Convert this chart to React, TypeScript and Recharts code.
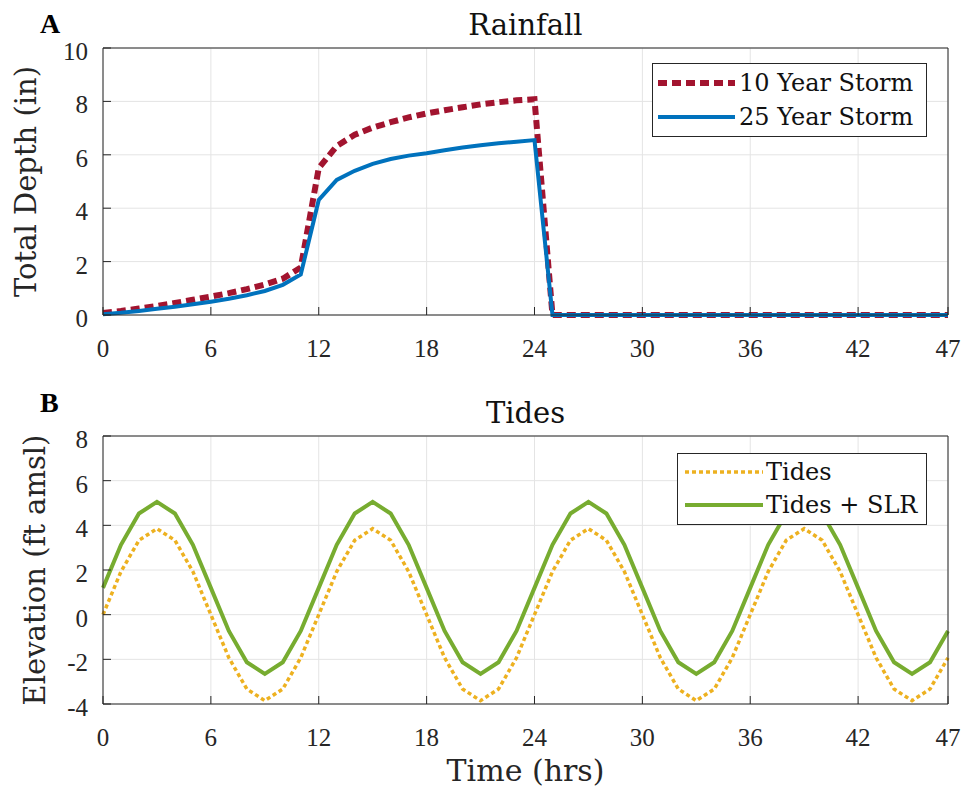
import React from 'react';
import { LineChart, Line, XAxis, YAxis, CartesianGrid, Legend } from 'recharts';

const hours = [
  0, 1, 2, 3, 4, 5, 6, 7, 8, 9, 10, 11, 12, 13, 14, 15, 16, 17, 18, 19, 20, 21, 22, 23,
  24, 25, 26, 27, 28, 29, 30, 31, 32, 33, 34, 35, 36, 37, 38, 39, 40, 41, 42, 43, 44, 45, 46, 47,
];
const xTicks = [0, 6, 12, 18, 24, 30, 36, 42, 47];
const rainTicks = [0, 2, 4, 6, 8, 10];
const tideTicks = [-4, -2, 0, 2, 4, 6, 8];

const rain10 = [
  0.08, 0.15, 0.24, 0.34, 0.45, 0.57, 0.69, 0.82, 0.97, 1.14, 1.36, 1.78,
  5.5, 6.33, 6.75, 7.02, 7.22, 7.4, 7.55, 7.67, 7.78, 7.89, 7.97, 8.04,
  8.08, 0, 0, 0, 0, 0, 0, 0, 0, 0, 0, 0,
  0, 0, 0, 0, 0, 0, 0, 0, 0, 0, 0, 0,
];
const rain25 = [
  0.03, 0.08, 0.15, 0.23, 0.31, 0.4, 0.5, 0.61, 0.74, 0.9, 1.13, 1.52,
  4.31, 5.06, 5.4, 5.66, 5.84, 5.97, 6.06, 6.17, 6.27, 6.36, 6.43, 6.49,
  6.55, 0, 0, 0, 0, 0, 0, 0, 0, 0, 0, 0,
  0, 0, 0, 0, 0, 0, 0, 0, 0, 0, 0, 0,
];
const tides = [
  0, 1.93, 3.33, 3.85, 3.33, 1.93, 0, -1.93, -3.33, -3.85, -3.33, -1.93,
  0, 1.93, 3.33, 3.85, 3.33, 1.93, 0, -1.93, -3.33, -3.85, -3.33, -1.93,
  0, 1.93, 3.33, 3.85, 3.33, 1.93, 0, -1.93, -3.33, -3.85, -3.33, -1.93,
  0, 1.93, 3.33, 3.85, 3.33, 1.93, 0, -1.93, -3.33, -3.85, -3.33, -1.93,
];
const tidesSlr = [
  1.2, 3.13, 4.53, 5.05, 4.53, 3.13, 1.2, -0.73, -2.13, -2.65, -2.13, -0.73,
  1.2, 3.13, 4.53, 5.05, 4.53, 3.13, 1.2, -0.73, -2.13, -2.65, -2.13, -0.73,
  1.2, 3.13, 4.53, 5.05, 4.53, 3.13, 1.2, -0.73, -2.13, -2.65, -2.13, -0.73,
  1.2, 3.13, 4.53, 5.05, 4.53, 3.13, 1.2, -0.73, -2.13, -2.65, -2.13, -0.73,
];

const rainData = hours.map((t, i) => ({ t, r10: rain10[i], r25: rain25[i] }));
const tideData = hours.map((t, i) => ({ t, tide: tides[i], slr: tidesSlr[i] }));

const AXIS = '#262626';
const GRID = '#e4e4e4';
const WORD_FONT = '"DejaVu Serif", serif';
const NUM_FONT = '"Liberation Serif", serif';

const seriesStyle: Record<string, { stroke: string; width: number; dash?: string }> = {
  r10: { stroke: '#A2142F', width: 6, dash: '9 5' },
  r25: { stroke: '#0072BD', width: 4 },
  tide: { stroke: '#EDB120', width: 3.5, dash: '4 3' },
  slr: { stroke: '#77AC30', width: 4 },
};

const LeftTick = (props: any) => (
  <text x={props.x} y={props.y + 12} textAnchor="end" fontFamily={NUM_FONT} fontSize={25} fill={AXIS}>
    {props.payload.value}
  </text>
);
const BottomTick = (props: any) => (
  <text x={props.x} y={props.y} textAnchor="middle" fontFamily={NUM_FONT} fontSize={25} fill={AXIS}>
    {props.payload.value}
  </text>
);

const titleLabel = (text: string) => (props: any) => {
  const vb = props.viewBox;
  return (
    <text x={vb.x + vb.width / 2} y={vb.y - 12} textAnchor="middle" fontFamily={WORD_FONT} fontSize={29} fill="#111">
      {text}
    </text>
  );
};
const yLabel = (text: string, dist: number) => (props: any) => {
  const vb = props.viewBox;
  const cx = vb.x + vb.width - dist;
  const cy = vb.y + vb.height / 2;
  return (
    <text x={cx} y={cy} transform={`rotate(-90 ${cx} ${cy})`} textAnchor="middle" fontFamily={WORD_FONT} fontSize={29} fill={AXIS}>
      {text}
    </text>
  );
};
const xLabel = (text: string) => (props: any) => {
  const vb = props.viewBox;
  return (
    <text x={vb.x + vb.width / 2} y={vb.y + 77} textAnchor="middle" fontFamily={WORD_FONT} fontSize={30} fill={AXIS}>
      {text}
    </text>
  );
};

type Box = { w: number; h: number; lx1: number; lx2: number; tx: number; rows: number[] };
const makeLegend = (box: Box) => (props: any) => {
  const payload = props.payload || [];
  return (
    <div style={{ width: box.w, height: box.h, border: `1px solid ${AXIS}`, background: '#fff', boxSizing: 'border-box' }}>
      <svg width={box.w - 2} height={box.h - 2} style={{ display: 'block' }}>
        {payload.map((p: any, i: number) => {
          const s = seriesStyle[p.dataKey as string];
          const cy = box.rows[i];
          return (
            <g key={String(p.dataKey)}>
              <line x1={box.lx1} x2={box.lx2} y1={cy} y2={cy} stroke={s.stroke} strokeWidth={s.width} strokeDasharray={s.dash} />
              <text x={box.tx} y={cy + 8} fontFamily={WORD_FONT} fontSize={24} fill="#111">
                {p.value}
              </text>
            </g>
          );
        })}
      </svg>
    </div>
  );
};

const legendA = makeLegend({ w: 275, h: 74, lx1: 5, lx2: 82, tx: 86, rows: [19, 53] });
const legendB = makeLegend({ w: 250, h: 72, lx1: 7, lx2: 85, tx: 88, rows: [18, 51] });

const frameAxes = (yDomain: number[], yTicks: number[]) => [
  <XAxis
    key="xb"
    xAxisId="b"
    dataKey="t"
    type="number"
    domain={[0, 47]}
    ticks={xTicks}
    height={1}
    tickSize={-8}
    tickMargin={50}
    tick={BottomTick}
    axisLine={{ stroke: AXIS }}
    tickLine={{ stroke: AXIS }}
    interval={0}
  />,
  <XAxis
    key="xt"
    xAxisId="t"
    orientation="top"
    dataKey="t"
    type="number"
    domain={[0, 47]}
    ticks={xTicks}
    height={1}
    tickSize={-8}
    tick={false}
    axisLine={{ stroke: AXIS }}
    tickLine={{ stroke: AXIS }}
    interval={0}
  />,
  <YAxis
    key="yl"
    yAxisId="l"
    type="number"
    domain={yDomain}
    ticks={yTicks}
    width={1}
    tickSize={-8}
    tickMargin={23}
    tick={LeftTick}
    axisLine={{ stroke: AXIS }}
    tickLine={{ stroke: AXIS }}
    interval={0}
  />,
  <YAxis
    key="yr"
    yAxisId="r"
    orientation="right"
    type="number"
    domain={yDomain}
    ticks={yTicks}
    width={1}
    tickSize={-8}
    tick={false}
    axisLine={{ stroke: AXIS }}
    tickLine={{ stroke: AXIS }}
    interval={0}
  />,
];

export default function App() {
  return (
    <div style={{ position: 'relative', left: -8, top: -8, width: 969, height: 793, background: '#fff' }}>
      <svg width={100} height={60} style={{ position: 'absolute', left: 0, top: 0 }}>
        <text x={40} y={33} fontFamily={NUM_FONT} fontWeight="bold" fontSize={28} fill="#000">A</text>
      </svg>
      <svg width={100} height={60} style={{ position: 'absolute', left: 0, top: 380 }}>
        <text x={40} y={32} fontFamily={NUM_FONT} fontWeight="bold" fontSize={28} fill="#000">B</text>
      </svg>

      <div style={{ position: 'absolute', left: 0, top: 0 }}>
        <LineChart width={969} height={380} data={rainData} margin={{ top: 47, right: 20, bottom: 64, left: 102 }}>
          <CartesianGrid xAxisId="b" yAxisId="l" stroke={GRID} verticalPoints={undefined} />
          <XAxis
            xAxisId="b"
            dataKey="t"
            type="number"
            domain={[0, 47]}
            ticks={xTicks}
            height={1}
            tickSize={-8}
            tickMargin={50}
            tick={BottomTick}
            axisLine={{ stroke: AXIS }}
            tickLine={{ stroke: AXIS }}
            interval={0}
          />
          <XAxis
            xAxisId="t"
            orientation="top"
            dataKey="t"
            type="number"
            domain={[0, 47]}
            ticks={xTicks}
            height={1}
            tickSize={-8}
            tick={false}
            axisLine={{ stroke: AXIS }}
            tickLine={{ stroke: AXIS }}
            interval={0}
            label={titleLabel('Rainfall')}
          />
          <YAxis
            yAxisId="l"
            type="number"
            domain={[0, 10]}
            ticks={rainTicks}
            width={1}
            tickSize={-8}
            tickMargin={23}
            tick={LeftTick}
            axisLine={{ stroke: AXIS }}
            tickLine={{ stroke: AXIS }}
            interval={0}
            label={yLabel('Total Depth (in)', 67)}
          />
          <YAxis
            yAxisId="r"
            orientation="right"
            type="number"
            domain={[0, 10]}
            ticks={rainTicks}
            width={1}
            tickSize={-8}
            tick={false}
            axisLine={{ stroke: AXIS }}
            tickLine={{ stroke: AXIS }}
            interval={0}
          />
          <Legend
            layout="vertical"
            align="center"
            verticalAlign="middle"
            content={legendA}
            wrapperStyle={{ left: 652, top: 63, width: 275, height: 74 }}
          />
          <Line xAxisId="b" yAxisId="l" type="linear" dataKey="r10" name="10 Year Storm" stroke={seriesStyle.r10.stroke} strokeWidth={seriesStyle.r10.width} strokeDasharray={seriesStyle.r10.dash} dot={false} activeDot={false} isAnimationActive={false} />
          <Line xAxisId="b" yAxisId="l" type="linear" dataKey="r25" name="25 Year Storm" stroke={seriesStyle.r25.stroke} strokeWidth={seriesStyle.r25.width} dot={false} activeDot={false} isAnimationActive={false} />
        </LineChart>
      </div>

      <div style={{ position: 'absolute', left: 0, top: 380 }}>
        <LineChart width={969} height={413} data={tideData} margin={{ top: 55, right: 20, bottom: 88, left: 102 }}>
          <CartesianGrid xAxisId="b" yAxisId="l" stroke={GRID} />
          <XAxis
            xAxisId="b"
            dataKey="t"
            type="number"
            domain={[0, 47]}
            ticks={xTicks}
            height={1}
            tickSize={-8}
            tickMargin={50}
            tick={BottomTick}
            axisLine={{ stroke: AXIS }}
            tickLine={{ stroke: AXIS }}
            interval={0}
            label={xLabel('Time (hrs)')}
          />
          <XAxis
            xAxisId="t"
            orientation="top"
            dataKey="t"
            type="number"
            domain={[0, 47]}
            ticks={xTicks}
            height={1}
            tickSize={-8}
            tick={false}
            axisLine={{ stroke: AXIS }}
            tickLine={{ stroke: AXIS }}
            interval={0}
            label={titleLabel('Tides')}
          />
          <YAxis
            yAxisId="l"
            type="number"
            domain={[-4, 8]}
            ticks={tideTicks}
            width={1}
            tickSize={-8}
            tickMargin={23}
            tick={LeftTick}
            axisLine={{ stroke: AXIS }}
            tickLine={{ stroke: AXIS }}
            interval={0}
            label={yLabel('Elevation (ft amsl)', 58)}
          />
          <YAxis
            yAxisId="r"
            orientation="right"
            type="number"
            domain={[-4, 8]}
            ticks={tideTicks}
            width={1}
            tickSize={-8}
            tick={false}
            axisLine={{ stroke: AXIS }}
            tickLine={{ stroke: AXIS }}
            interval={0}
          />
          <Legend
            layout="vertical"
            align="center"
            verticalAlign="middle"
            content={legendB}
            wrapperStyle={{ left: 677, top: 73, width: 250, height: 72 }}
          />
          <Line xAxisId="b" yAxisId="l" type="linear" dataKey="tide" name="Tides" stroke={seriesStyle.tide.stroke} strokeWidth={seriesStyle.tide.width} strokeDasharray={seriesStyle.tide.dash} dot={false} activeDot={false} isAnimationActive={false} />
          <Line xAxisId="b" yAxisId="l" type="linear" dataKey="slr" name="Tides + SLR" stroke={seriesStyle.slr.stroke} strokeWidth={seriesStyle.slr.width} dot={false} activeDot={false} isAnimationActive={false} />
        </LineChart>
      </div>
    </div>
  );
}
